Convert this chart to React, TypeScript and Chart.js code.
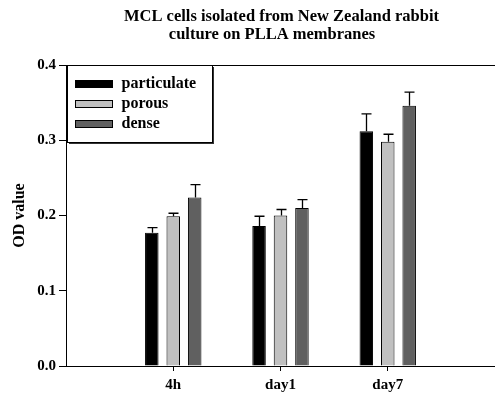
import React, { useEffect, useRef } from "react";
import { Chart, registerables } from "chart.js";

Chart.register(...registerables);

// Sampling times along the x axis
const categories = ["4h", "day1", "day7"];

// Mean OD values per membrane type
const particulate = [0.177, 0.186, 0.312];
const porous = [0.199, 0.2, 0.298];
const dense = [0.224, 0.21, 0.346];

// Upper error (SD) per membrane type
const particulateErr = [0.007, 0.013, 0.023];
const porousErr = [0.004, 0.008, 0.01];
const denseErr = [0.017, 0.011, 0.018];

const seriesNames = ["particulate", "porous", "dense"];
const seriesColors = ["#000000", "#c0c0c0", "#606060"];

const titleLines = ["MCL cells isolated from New Zealand rabbit", "culture on PLLA membranes"];
const yTicks = [0, 0.1, 0.2, 0.3, 0.4];

const FONT = "'Liberation Serif', 'Times New Roman', serif";

// Empty slots on both ends leave the wide margins beside the groups
const labels = ["", ...categories, ""];
const pad = (arr: number[]) => [null, ...arr, null];

const errors = [particulateErr, porousErr, denseErr];

const errorBarPlugin = {
  id: "errorBars",
  afterDatasetsDraw(chart: any) {
    const { ctx } = chart;
    const yScale = chart.scales.y;
    ctx.save();
    ctx.strokeStyle = "#000";
    ctx.lineWidth = 1.3;
    chart.data.datasets.forEach((ds: any, i: number) => {
      const meta = chart.getDatasetMeta(i);
      meta.data.forEach((bar: any, j: number) => {
        const v = ds.data[j];
        if (v == null) return;
        const err = errors[i][j - 1];
        const yTop = yScale.getPixelForValue(v + err);
        const yBar = yScale.getPixelForValue(v);
        const x = Math.round(bar.x) + 0.5;
        ctx.beginPath();
        ctx.moveTo(x, yBar);
        ctx.lineTo(x, yTop);
        ctx.moveTo(x - 5, yTop);
        ctx.lineTo(x + 5, yTop);
        ctx.stroke();
      });
    });
    ctx.restore();
  },
};

const framePlugin = {
  id: "frameAndLegend",
  afterDraw(chart: any) {
    const { ctx, chartArea } = chart;
    const { left, right, top } = chartArea;
    ctx.save();

    // top frame line
    ctx.strokeStyle = "#000";
    ctx.lineWidth = 1;
    ctx.beginPath();
    ctx.moveTo(left, Math.round(top) + 0.5);
    ctx.lineTo(right, Math.round(top) + 0.5);
    ctx.stroke();

    // title
    const cx = (left + right) / 2;
    ctx.fillStyle = "#000";
    ctx.font = `bold 16.5px ${FONT}`;
    ctx.textAlign = "center";
    ctx.textBaseline = "alphabetic";
    ctx.fillText(titleLines[0], cx + 1, 21);
    ctx.fillText(titleLines[1], cx - 8.5, 39);

    // legend box with drop shadow
    const bx = left + 1.5;
    const by = top + 0.5;
    const bw = 145;
    const bh = 77;
    ctx.fillStyle = "#333";
    ctx.fillRect(bx + 1.5, by + 1.5, bw, bh);
    ctx.fillStyle = "#fff";
    ctx.fillRect(bx, by, bw, bh);
    ctx.strokeStyle = "#000";
    ctx.strokeRect(bx, by, bw, bh);

    ctx.font = `bold 16px ${FONT}`;
    ctx.textAlign = "left";
    ctx.textBaseline = "middle";
    seriesNames.forEach((name, i) => {
      const yc = top + 19 + i * 19.8;
      ctx.fillStyle = seriesColors[i];
      ctx.fillRect(bx + 8, Math.round(yc - 4) + 0.5, 37, 7);
      ctx.strokeStyle = "#000";
      ctx.strokeRect(bx + 8, Math.round(yc - 4) + 0.5, 37, 7);
      ctx.fillStyle = "#000";
      ctx.fillText(name, bx + 54, yc);
    });
    ctx.restore();
  },
};

export default function App() {
  const canvasRef = useRef<HTMLCanvasElement | null>(null);

  useEffect(() => {
    document.body.style.margin = "0";
    const canvas = canvasRef.current;
    if (!canvas) return;
    const datasets = [particulate, porous, dense].map((d, i) => ({
      label: seriesNames[i],
      data: pad(d),
      backgroundColor: seriesColors[i],
      borderColor: "#000",
      borderWidth: 1,
      categoryPercentage: 0.6,
      barPercentage: 0.63,
    }));
    const chart = new Chart(canvas, {
      type: "bar",
      data: { labels, datasets },
      options: {
        responsive: false,
        animation: false,
        layout: { padding: { top: 65, right: 0, left: 0, bottom: 0 } },
        plugins: {
          legend: { display: false },
          title: { display: false },
          tooltip: { enabled: false },
        },
        scales: {
          x: {
            offset: false,
            afterFit: (s: any) => {
              s.height = 30;
              s.paddingRight = 0;
              s.paddingLeft = 0;
            },
            grid: {
              offset: false,
              drawOnChartArea: false,
              drawTicks: true,
              tickLength: 5,
              color: (c: any) => (labels[c.index] === "" ? "rgba(0,0,0,0)" : "#000"),
            },
            border: { display: true, color: "#000", width: 1 },
            ticks: {
              color: "#000",
              padding: 5,
              maxRotation: 0,
              autoSkip: false,
              font: { family: FONT, size: 15, weight: "bold" },
            },
          },
          y: {
            min: 0,
            max: 0.4,
            afterFit: (s: any) => {
              s.width = 66;
            },
            afterBuildTicks: (s: any) => {
              s.ticks = yTicks.map((v) => ({ value: v }));
            },
            grid: { drawOnChartArea: false, drawTicks: true, tickLength: 7, color: "#000" },
            border: { display: true, color: "#000", width: 1 },
            ticks: {
              color: "#000",
              padding: 3,
              font: { family: FONT, size: 15, weight: "bold" },
              callback: (v: any) => Number(v).toFixed(1),
            },
            title: {
              display: true,
              text: "OD value",
              color: "#000",
              padding: { top: 10, bottom: 0 },
              font: { family: FONT, size: 16, weight: "bold" },
            },
          },
        },
      },
      plugins: [errorBarPlugin, framePlugin],
    });
    return () => chart.destroy();
  }, []);

  return (
    <div style={{ width: 495, height: 396, background: "#fff" }}>
      <canvas ref={canvasRef} width={495} height={396} style={{ display: "block" }} />
    </div>
  );
}
